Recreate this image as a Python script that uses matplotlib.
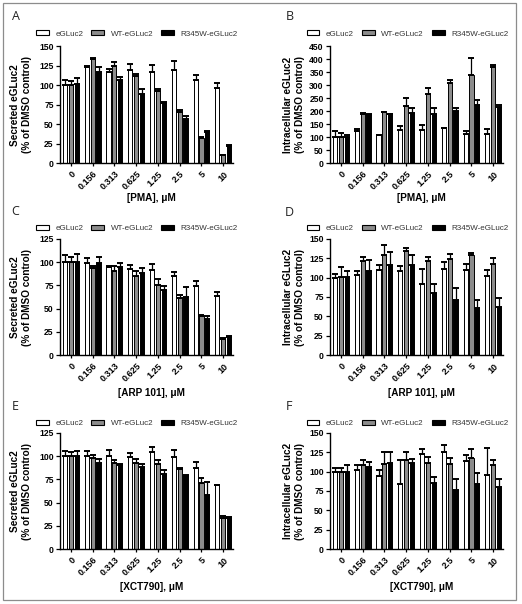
import matplotlib
matplotlib.use("Agg")
import matplotlib.pyplot as plt
from matplotlib.patches import Patch, Rectangle
import numpy as np

plt.rcParams['font.family'] = ['Liberation Sans', 'DejaVu Sans']

concentrations = ["0", "0.156", "0.313", "0.625", "1.25", "2.5", "5", "10"]
series_names = ["eGLuc2", "WT-eGLuc2", "R345W-eGLuc2"]

# Panel A: secreted, PMA
a_white = [100, 123, 117, 119, 116.5, 119, 107, 96.5]
a_white_err = [7, 1.5, 4, 8, 9.5, 12, 6, 6.5]
a_gray = [100, 133, 125, 111.5, 92.5, 65.5, 32, 10]
a_gray_err = [5, 2, 4, 3, 2, 3, 1, 0.5]
a_black = [101, 116.5, 106, 88, 76.5, 57, 40.5, 22.5]
a_black_err = [8, 6.5, 4, 6.5, 2.5, 4, 0.5, 1]

# Panel B: intracellular, PMA
b_white = [101, 125, 109, 129, 129, 135, 112, 113]
b_white_err = [23, 5, 1, 14, 17, 2, 13, 20]
b_gray = [100, 190, 196, 219, 266, 308, 340, 368]
b_gray_err = [16, 3, 2, 33, 22, 12, 63, 10]
b_black = [101, 184, 190, 193, 190, 201, 222, 215]
b_black_err = [9, 7, 1, 18, 21, 12, 21, 10]

# Panel C: secreted, ARP 101
c_white = [100, 99.3, 95, 93, 91.4, 84.6, 74.6, 63.2]
c_white_err = [7, 5, 1, 4, 6, 5, 5, 4.5]
c_gray = [100, 93.6, 90, 85.4, 75, 61.8, 42.5, 18]
c_gray_err = [5, 2.5, 6, 5, 7, 3, 0.7, 0.7]
c_black = [100, 98.6, 95, 88.6, 70, 62.5, 39, 20]
c_black_err = [9, 7, 4, 5, 4.6, 11, 3, 0.8]

# Panel D: intracellular, ARP 101
d_white = [100, 103.5, 109.3, 108.4, 92, 111.4, 109.7, 101.6]
d_white_err = [5, 5.5, 7, 6, 18.6, 8.6, 8.3, 8]
d_gray = [100.5, 121, 129.5, 134, 121, 124, 129.4, 118]
d_gray_err = [13.5, 6, 13, 4, 5, 6, 1.6, 7.6]
d_black = [100.5, 108, 116.6, 116.6, 80.6, 70.7, 60.4, 62.6]
d_black_err = [8.5, 15, 16, 12, 10.7, 16, 11, 11]

# Panel E: secreted, XCT790
e_white = [99.5, 99.6, 99.6, 99.3, 104.6, 99.3, 87.5, 68.6]
e_white_err = [5.5, 6, 7, 4.3, 5.5, 6.7, 6.5, 0.7]
e_gray = [99.5, 97.5, 92, 92.8, 91, 86.4, 70.7, 34]
e_gray_err = [4.5, 3.5, 3.4, 4.2, 4.4, 0.5, 5.3, 1.7]
e_black = [99.5, 92, 90.4, 88.6, 81, 79, 58.2, 34]
e_black_err = [5.5, 4.4, 0.6, 3.2, 4, 0.6, 13.8, 0.3]

# Panel F: intracellular, XCT790
f_white = [100, 102, 94, 84.6, 122, 124.6, 113, 95.4]
f_white_err = [5, 7, 7.7, 30, 7, 9.4, 8, 35]
f_gray = [100, 108, 109.4, 114.8, 111.4, 109.4, 118, 108.4]
f_gray_err = [5, 7, 15.6, 11, 7.6, 8.2, 10.6, 6.6]
f_black = [100, 105.7, 110.4, 111.6, 85.4, 76.6, 83.6, 80.4]
f_black_err = [8, 6.7, 14.6, 4.7, 8.2, 13.8, 14.4, 10]

secreted_label = "Secreted eGLuc2\n(% of DMSO control)"
intra_label = "Intracellular eGLuc2\n(% of DMSO control)"

panels = [
    dict(letter="A", vals=(a_white, a_gray, a_black), errs=(a_white_err, a_gray_err, a_black_err),
         ylabel=secreted_label, xlabel="[PMA], \u03bcM", ymax=150, ystep=25),
    dict(letter="B", vals=(b_white, b_gray, b_black), errs=(b_white_err, b_gray_err, b_black_err),
         ylabel=intra_label, xlabel="[PMA], \u03bcM", ymax=450, ystep=50),
    dict(letter="C", vals=(c_white, c_gray, c_black), errs=(c_white_err, c_gray_err, c_black_err),
         ylabel=secreted_label, xlabel="[ARP 101], \u03bcM", ymax=125, ystep=25),
    dict(letter="D", vals=(d_white, d_gray, d_black), errs=(d_white_err, d_gray_err, d_black_err),
         ylabel=intra_label, xlabel="[ARP 101], \u03bcM", ymax=150, ystep=25),
    dict(letter="E", vals=(e_white, e_gray, e_black), errs=(e_white_err, e_gray_err, e_black_err),
         ylabel=secreted_label, xlabel="[XCT790], \u03bcM", ymax=125, ystep=25),
    dict(letter="F", vals=(f_white, f_gray, f_black), errs=(f_white_err, f_gray_err, f_black_err),
         ylabel=intra_label, xlabel="[XCT790], \u03bcM", ymax=150, ystep=25),
]

W, H = 522, 604
fig = plt.figure(figsize=(W / 100, H / 100), dpi=100)

face_colors = ["white", "#8c8c8c", "black"]
col_left = [60, 330]
ax_w = 173
row_px = [(46, 163.3), (238.7, 355.3), (432.7, 549.3)]
legend_y = [34, 228.5, 423.5]
legend_cx = [137, 407.5]
letter_pos = [(16, 17), (290, 17), (15, 211), (289, 212), (15, 407), (289, 407)]
ylabel_px = [21, 294]

x = np.arange(len(concentrations))
bw = 0.19
offs = [-0.27, 0.0, 0.27]

for i, p in enumerate(panels):
    r, c = divmod(i, 2)
    top, bot = row_px[r]
    ax = fig.add_axes([col_left[c] / W, 1 - bot / H, ax_w / W, (bot - top) / H])
    for k in range(3):
        vals = p["vals"][k]
        errs = p["errs"][k]
        ax.bar(x + offs[k], vals, width=bw, color=face_colors[k], edgecolor="black",
               linewidth=0.7, zorder=2)
        ax.errorbar(x + offs[k], vals, yerr=[np.zeros(len(errs)), errs], fmt="none",
                    ecolor="black", elinewidth=0.9, capsize=2.0, capthick=1.4, zorder=3)
    ax.set_xlim(-0.5, 7.45)
    ax.set_ylim(0, p["ymax"])
    ax.set_yticks(np.arange(0, p["ymax"] + 1, p["ystep"]))
    ax.set_xticks(x)
    ax.set_xticklabels(concentrations, rotation=45, ha="right", rotation_mode="anchor",
                       fontsize=6.5, fontweight="bold")
    for lab in ax.get_yticklabels():
        lab.set_fontsize(6.2)
        lab.set_fontweight("bold")
    ax.tick_params(axis="y", length=3, width=0.9, pad=1.5)
    ax.tick_params(axis="x", length=2.5, width=0.9, pad=2)
    for s in ["top", "right"]:
        ax.spines[s].set_visible(False)
    for s in ["left", "bottom"]:
        ax.spines[s].set_linewidth(1.0)
    ax.set_ylabel(p["ylabel"], fontsize=7.2, fontweight="bold", linespacing=1.15, va="center")
    ax.yaxis.set_label_coords((ylabel_px[c] - col_left[c]) / ax_w, 0.5)
    ax.set_xlabel(p["xlabel"], fontsize=7.2, fontweight="bold", va="center")
    ax.xaxis.set_label_coords(0.53, -0.30 if r == 0 else -0.325)

    handles = [Patch(facecolor=face_colors[k], edgecolor="black", linewidth=0.8, label=series_names[k])
               for k in range(3)]
    ax.legend(handles=handles, loc="center", ncol=3, frameon=False,
              bbox_to_anchor=(legend_cx[c] / W, 1 - legend_y[r] / H), bbox_transform=fig.transFigure,
              fontsize=5.8, handlelength=1.6, handleheight=0.55, handletextpad=0.8,
              columnspacing=1.0, borderpad=0, labelcolor="#333333")

    lx, ly = letter_pos[i]
    fig.text(lx / W, 1 - ly / H, p["letter"], fontsize=9, family="Open Sans",
             ha="center", va="center", color="#222222")

fig.patches.append(Rectangle((2.5 / W, 1 - 599.5 / H), (516 - 2.5) / W, (599.5 - 2.5) / H,
                             transform=fig.transFigure, fill=False, edgecolor="#8c8c8c",
                             linewidth=0.9))

fig.savefig("out.png", dpi=100)
